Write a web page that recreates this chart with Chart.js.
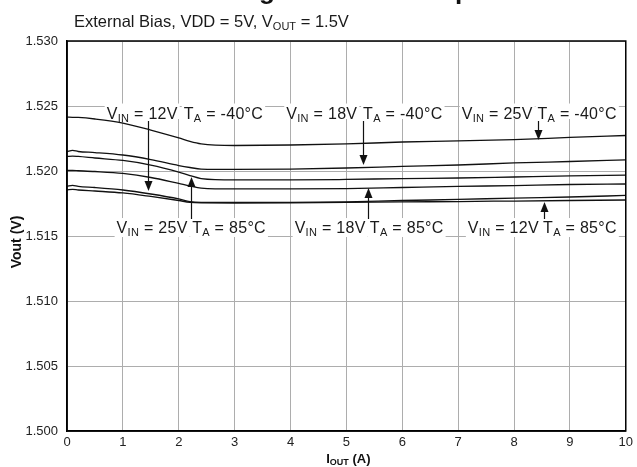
<!DOCTYPE html>
<html><head><meta charset="utf-8">
<script src="https://cdn.jsdelivr.net/npm/chart.js@4.4.1/dist/chart.umd.min.js"></script>
<style>html,body{margin:0;padding:0;background:#fff;}#wrap{width:637px;height:467px;position:relative}</style>
</head><body><div id="wrap"><canvas id="c" width="637" height="467"></canvas></div>
<script>
// ---- data ----
const iout = [0, 0.1, 0.2, 0.5, 1, 1.5, 2, 2.2, 2.4, 3, 4, 5, 6, 7, 8, 9, 10];
const vin25_m40 = [1.52415,1.52413,1.52412,1.52400,1.52369,1.52315,1.52254,1.52227,1.52208,1.52196,1.52200,1.52208,1.52223,1.52231,1.52242,1.52258,1.52273];
const vin18_m40 = [1.52150,1.52159,1.52150,1.52142,1.52123,1.52088,1.52042,1.52027,1.52015,1.52012,1.52015,1.52023,1.52035,1.52046,1.52062,1.52073,1.52085];
const vin25_85  = [1.52112,1.52115,1.52112,1.52100,1.52081,1.52046,1.51992,1.51965,1.51942,1.51931,1.51931,1.51935,1.51942,1.51946,1.51954,1.51962,1.51969];
const vin18_85  = [1.52004,1.52004,1.52002,1.51996,1.51981,1.51950,1.51904,1.51885,1.51869,1.51862,1.51862,1.51865,1.51873,1.51881,1.51888,1.51896,1.51900];
const vin12_m40 = [1.51881,1.51890,1.51881,1.51873,1.51854,1.51823,1.51785,1.51765,1.51759,1.51758,1.51758,1.51762,1.51773,1.51781,1.51792,1.51800,1.51812];
const vin12_85  = [1.51854,1.51859,1.51854,1.51846,1.51831,1.51804,1.51773,1.51759,1.51755,1.51754,1.51755,1.51758,1.51762,1.51765,1.51769,1.51773,1.51777];
const seriesNames = ['VIN = 25V TA = -40°C','VIN = 18V TA = -40°C','VIN = 25V TA = 85°C','VIN = 18V TA = 85°C','VIN = 12V TA = -40°C','VIN = 12V TA = 85°C'];
const xTicks = [0,1,2,3,4,5,6,7,8,9,10];
const yTicks = [1.500,1.505,1.510,1.515,1.520,1.525,1.530];

const titleText = 'Load Regulation vs Temperature';
const subtitleParts = [['External Bias, VDD = 5V, V',false],['OUT',true],[' = 1.5V',false]];

// annotation texts (main, subscript, rest)
const topLabels = [['V','IN',' = 12V'],['T','A',' = -40°C'],['V','IN',' = 18V'],['T','A',' = -40°C'],['V','IN',' = 25V'],['T','A',' = -40°C']];
const bottomLabels = [['V','IN',' = 25V'],['T','A',' = 85°C'],['V','IN',' = 18V'],['T','A',' = 85°C'],['V','IN',' = 12V'],['T','A',' = 85°C']];
// label centres, in axis units
const topLabelX = [1.346, 2.80, 4.56, 6.01, 7.70, 9.13];
const bottomLabelX = [1.524, 2.90, 4.71, 6.08, 7.81, 9.18];
const topRowV = 1.52446;
const bottomRowV = 1.51569;
// arrows: x position (A), target value (V), start row
const arrowX = [1.444, 2.228, 5.294, 5.383, 8.431, 8.538];
const arrowTipV = [1.51846, 1.51954, 1.52046, 1.51869, 1.52238, 1.51762];
const arrowFrom = ['top','bottom','top','bottom','top','bottom'];

const allSeries = [vin25_m40, vin18_m40, vin25_85, vin18_85, vin12_m40, vin12_85];
const datasets = allSeries.map((s,i)=>({
  label: seriesNames[i],
  data: iout.map((x,j)=>({x:x, y:s[j]})),
  borderColor:'#111', borderWidth:1.3, pointRadius:0, fill:false,
  cubicInterpolationMode:'monotone'
}));

const FONT = "'Liberation Sans', Arial, sans-serif";
const TICKFONT = "'Liberation Sans', Arial, sans-serif";

function drawRich(c, parts, cx, cy, size, subSize, subDrop, align){
  let w = 0;
  const ms = parts.map(p=>{ c.font = (p[1]?subSize:size)+'px '+FONT; const m=c.measureText(p[0]).width; w+=m; return m; });
  let x = align==='left' ? cx : cx - w/2;
  c.textBaseline = 'alphabetic'; c.textAlign='left';
  parts.forEach((p,i)=>{ c.font=(p[1]?subSize:size)+'px '+FONT; c.fillText(p[0], x, cy + (p[1]?subDrop:0)); x+=ms[i]; });
  return w;
}
function labelParts(l){ return [[l[0],false],[l[1],true],[l[2],false]]; }

const decor = {
  id:'decor',
  beforeDraw(chart){ const c=chart.ctx; c.save(); c.fillStyle='#fff'; c.fillRect(0,0,chart.width,chart.height); c.restore(); },
  beforeDatasetsDraw(chart){
    const c = chart.ctx, xs = chart.scales.x, ys = chart.scales.y;
    c.save();
    c.letterSpacing = '0.3px';
    const rows = [[topLabels, topLabelX, topRowV],[bottomLabels, bottomLabelX, bottomRowV]];
    rows.forEach(([labs, lx, rv], r)=>{
      const cy = ys.getPixelForValue(rv);
      labs.forEach((l,i)=>{
        const parts = labelParts(l);
        let w=0; parts.forEach(p=>{ c.font=(p[1]?11:16)+'px '+FONT; w+=c.measureText(p[0]).width; });
        const cx = xs.getPixelForValue(lx[i]);
        c.fillStyle='#fff';
        if(r===0) c.fillRect(cx-w/2-2, cy-9.5, w+4, 15.5);
        else c.fillRect(cx-w/2-2, cy-9, w+4, 19);
        c.fillStyle='#1a1a1a';
        drawRich(c, parts, cx, cy+5.5, 16, 11, 3, 'center');
      });
    });
    c.restore();
  },
  afterDatasetsDraw(chart){
    const c = chart.ctx, xs = chart.scales.x, ys = chart.scales.y, a = chart.chartArea;
    c.save();
    c.strokeStyle='#111'; c.fillStyle='#111'; c.lineWidth=1.2;
    arrowX.forEach((ax,i)=>{
      const px = Math.round(xs.getPixelForValue(ax))+0.5;
      const tip = ys.getPixelForValue(arrowTipV[i]);
      const start = arrowFrom[i]==='top' ? ys.getPixelForValue(topRowV)+8 : ys.getPixelForValue(bottomRowV)-8;
      const dir = tip > start ? 1 : -1;
      c.beginPath(); c.moveTo(px,start); c.lineTo(px, tip - dir*8); c.stroke();
      c.beginPath(); c.moveTo(px, tip); c.lineTo(px-4, tip-dir*10); c.lineTo(px+4, tip-dir*10); c.closePath(); c.fill();
    });
    c.strokeStyle='#000'; c.lineWidth=1.5;
    c.strokeRect(a.left, a.top, a.right-a.left, a.bottom-a.top);
    c.restore();
  },
  afterDraw(chart){
    const c = chart.ctx, a = chart.chartArea;
    c.save();
    // main title (only its descenders fall inside the picture)
    c.font = 'bold 26px '+FONT; c.fillStyle='#111'; c.textBaseline='alphabetic'; c.textAlign='left';
    const pre = c.measureText('Load Re').width;
    c.fillText(titleText, 259 - pre, -1.5);
    // subtitle
    c.fillStyle='#1a1a1a';
    drawRich(c, subtitleParts, 74, 27, 16.5, 11, 3, 'left');
    // x axis title
    c.fillStyle='#111';
    const xparts = [['I',false],['OUT',true],[' (A)',false]];
    let w=0; xparts.forEach(p=>{ c.font='bold '+(p[1]?9:13)+'px '+FONT; w+=c.measureText(p[0]).width; });
    let x = (a.left+a.right)/2 + 2 - w/2;
    xparts.forEach(p=>{ c.font='bold '+(p[1]?9:13)+'px '+FONT; c.fillText(p[0], x, 463 + (p[1]?2:0)); x+=c.measureText(p[0]).width; });
    // y axis title
    c.translate(17, (a.top+a.bottom)/2 + 6);
    c.rotate(-Math.PI/2);
    c.font='bold 14px '+FONT; c.textAlign='center'; c.textBaseline='middle';
    c.fillText('Vout (V)', 0, 0);
    c.restore();
  }
};

new Chart(document.getElementById('c'), {
  type:'line',
  data:{ datasets },
  options:{
    responsive:false, animation:false, devicePixelRatio:1,
    layout:{ padding:{ top:41, right:9, left:0, bottom:0 } },
    plugins:{ legend:{display:false}, tooltip:{enabled:false}, title:{display:false} },
    scales:{
      x:{
        type:'linear', min:0, max:10,
        afterBuildTicks: s => { s.ticks = xTicks.map(v=>({value:v})); },
        afterFit: s => { s.height = 36; },
        ticks:{ color:'#222', font:{ family:TICKFONT, size:13 }, padding:4, maxRotation:0, autoSkip:false },
        grid:{ color:'#adadad', lineWidth:1, drawTicks:false },
        border:{ display:true, color:'#000', width:1.5 }
      },
      y:{
        type:'linear', min:1.5, max:1.53,
        afterBuildTicks: s => { s.ticks = yTicks.map(v=>({value:v})); },
        afterFit: s => { s.width = 67; },
        ticks:{ color:'#222', font:{ family:TICKFONT, size:13 }, padding:9, callback: v => Number(v).toFixed(3) },
        grid:{ color:'#adadad', lineWidth:1, drawTicks:false },
        border:{ display:true, color:'#000', width:1.5 }
      }
    }
  },
  plugins:[decor]
});
</script></body></html>
